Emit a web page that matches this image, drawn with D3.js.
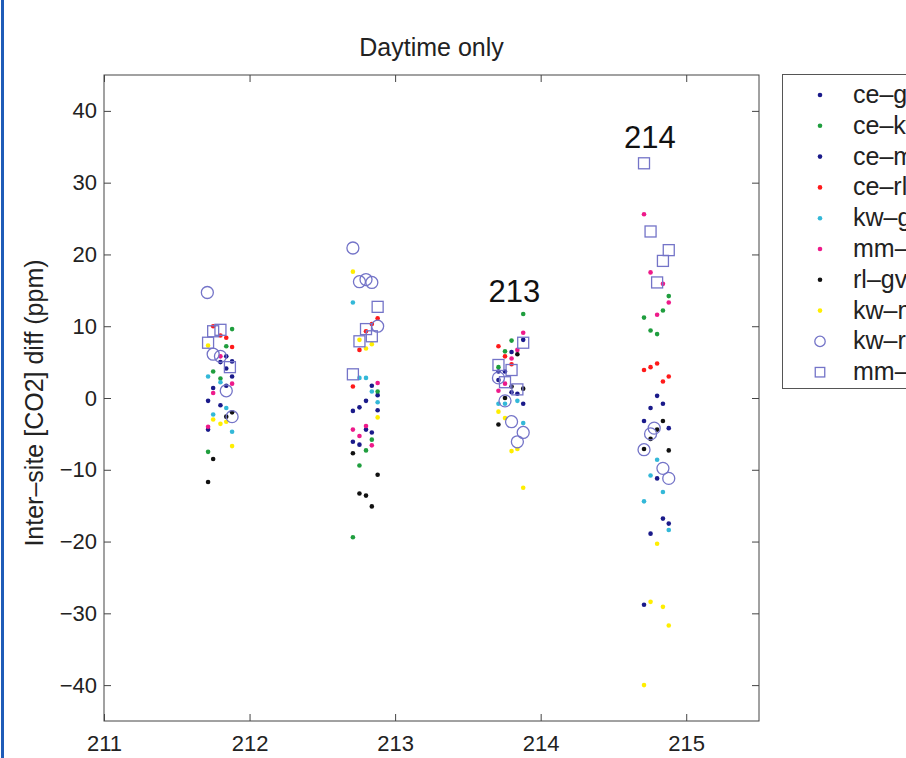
<!DOCTYPE html>
<html><head><meta charset="utf-8">
<script src="https://cdn.jsdelivr.net/npm/d3@7"></script>
<style>
body{margin:0;background:#fff;}
svg{display:block;font-family:"Liberation Sans",Arial,sans-serif;}
</style></head>
<body>
<svg id="chart" width="906" height="758"></svg>
<script>
// ---------- data ----------
const title = "Daytime only";
const yLabel = "Inter–site [CO2] diff (ppm)";
const xTicks = [211, 212, 213, 214, 215];
const yTicks = [-40, -30, -20, -10, 0, 10, 20, 30, 40];
const seriesNames = ["ce–gv","ce–kw","ce–mm","ce–rl","kw–gv","mm–gv","rl–gv","kw–mm","kw–rl","mm–rl"];
const seriesColors = ["#1a1a8a","#1f9e3e","#1a1a8a","#ff1a1a","#33b8d8","#ee1a8a","#111111","#ffee00","#7474c8","#7474c8"];
const seriesShapes = ["dot","dot","dot","dot","dot","dot","dot","dot","circle","square"];

const ceGv = [[211.715,-0.4],[211.75,1.4],[211.80,5.0],[211.84,5.8],[211.88,5.1],
  [212.71,-1.8],[212.755,-1.3],[212.80,-0.4],[212.84,1.7],[212.88,0.4],
  [213.71,2.5],[213.755,3.7],[213.80,6.4],[213.88,8.1],
  [214.71,-3.2],[214.755,-1.4],[214.80,0.3],[214.84,-0.8],[214.88,-4.2]];
const ceKw = [[211.715,-7.5],[211.75,3.7],[211.80,2.7],[211.84,7.2],[211.88,9.6],
  [212.71,-19.4],[212.755,-9.4],[212.80,-7.3],[212.84,-5.8],[212.88,0.9],
  [213.71,4.3],[213.755,6.5],[213.80,8.0],[213.88,11.7],
  [214.71,11.2],[214.755,9.4],[214.80,8.9],[214.84,12.2],[214.88,14.2]];
const ceMm = [[211.715,-4.4],[211.80,-1.0],[211.84,4.1],[211.84,1.7],[211.88,3.0],
  [212.71,-6.1],[212.755,-6.5],[212.80,-4.4],[212.84,-4.8],[212.88,-1.7],
  [213.71,3.7],[213.80,0.8],[213.84,0.6],[213.88,-0.8],
  [214.71,-28.8],[214.755,-18.9],[214.80,-11.2],[214.84,-16.8],[214.88,-17.5]];
const ceRl = [[211.75,10.0],[211.80,8.7],[211.84,8.4],[211.88,7.1],
  [212.71,1.6],[212.755,6.7],[212.80,9.3],[212.84,10.3],[212.88,11.1],
  [213.71,7.2],[213.755,5.8],[213.80,4.7],
  [214.71,3.9],[214.755,4.3],[214.80,4.8],[214.84,2.3],[214.88,3.0]];
const kwGv = [[211.715,3.0],[211.75,-2.3],[211.80,2.2],[211.84,-1.4],[211.88,-4.7],
  [212.71,13.3],[212.755,2.8],[212.80,2.8],[212.84,0.9],[212.88,-0.6],
  [213.71,-0.8],[213.755,-0.8],[213.84,-0.4],[213.88,-3.5],
  [214.71,-14.4],[214.755,-10.8],[214.80,-8.6],[214.84,-13.1],[214.88,-18.4]];
const mmGv = [[211.715,-4.0],[211.75,0.7],[211.80,5.8],[211.88,2.0],
  [212.71,-4.4],[212.755,-5.3],[212.80,-3.9],[212.84,-6.6],[212.88,2.1],
  [213.71,1.0],[213.755,2.0],[213.80,5.5],[213.84,6.7],[213.88,9.1],
  [214.71,25.6],[214.755,17.5],[214.80,11.6],[214.84,15.9],[214.88,13.3]];
const rlGv = [[211.715,-11.7],[211.75,-8.5],[211.84,-2.6],[211.88,-2.0],
  [212.71,-7.7],[212.755,-13.3],[212.80,-13.6],[212.84,-15.1],[212.88,-10.7],
  [213.71,-3.7],[213.755,0.0],[213.80,1.6],[213.84,6.1],[213.88,1.3],
  [214.71,-7.1],[214.755,-5.7],[214.80,-4.4],[214.84,-3.2],[214.88,-7.3]];
const kwMm = [[211.715,7.3],[211.75,-3.0],[211.80,-3.6],[211.84,-3.3],[211.88,-6.7],
  [212.71,17.6],[212.755,8.1],[212.80,6.9],[212.84,7.5],[212.88,-2.7],
  [213.71,-1.9],[213.755,-2.8],[213.80,-7.4],[213.84,-7.1],[213.88,-12.5],
  [214.71,-40.0],[214.755,-28.4],[214.80,-20.3],[214.84,-29.1],[214.88,-31.7]];
const kwRl = [[211.71,14.7],[211.75,6.1],[211.80,5.8],[211.84,1.0],[211.88,-2.6],
  [212.71,20.9],[212.755,16.2],[212.80,16.5],[212.84,16.1],[212.88,10.0],
  [213.71,2.8],[213.755,-0.4],[213.80,-3.3],[213.84,-6.1],[213.88,-4.8],
  [214.71,-7.2],[214.755,-5.0],[214.78,-4.2],[214.84,-9.8],[214.88,-11.2]];
const mmRl = [[211.715,7.7],[211.75,9.3],[211.80,9.5],[211.865,4.3],
  [212.71,3.3],[212.755,7.9],[212.80,9.6],[212.84,8.6],[212.88,12.7],
  [213.71,4.6],[213.755,2.2],[213.80,3.9],[213.84,1.2],[213.88,7.7],
  [214.71,32.7],[214.755,23.2],[214.80,16.1],[214.84,19.1],[214.88,20.6]];
const seriesData = [ceGv, ceKw, ceMm, ceRl, kwGv, mmGv, rlGv, kwMm, kwRl, mmRl];

const annotations = [{text:"213", x:213.82, y:13.4},{text:"214", x:214.75, y:34.8}];

// ---------- layout ----------
const svg = d3.select("#chart");
const L = 104, R = 759, T = 75, B = 721;
const x = d3.scaleLinear().domain([211, 215.5]).range([L, R]);
const y = d3.scaleLinear().domain([-45, 45]).range([B, T]);
const axisColor = "#444";

// left blue edge
svg.append("rect").attr("x",1).attr("y",0).attr("width",3).attr("height",758).attr("fill","#1f5cb8");

// title
svg.append("text").attr("x",(L+R)/2).attr("y",56).attr("text-anchor","middle")
  .attr("font-size",25).attr("fill","#222").text(title);

// y label
svg.append("text").attr("transform",`translate(43,${(T+B)/2+5}) rotate(-90)`)
  .attr("text-anchor","middle").attr("font-size",25).attr("fill","#222").text(yLabel);

// axes (ticks inward)
const tl = 7;
const gx = svg.append("g").attr("transform",`translate(0,${B})`)
  .call(d3.axisBottom(x).tickValues(xTicks).tickSize(-tl).tickPadding(14).tickFormat(d3.format("d")));
const gxt = svg.append("g").attr("transform",`translate(0,${T})`)
  .call(d3.axisTop(x).tickValues(xTicks).tickSize(-tl).tickFormat(""));
const gy = svg.append("g").attr("transform",`translate(${L},0)`)
  .call(d3.axisLeft(y).tickValues(yTicks).tickSize(-tl).tickPadding(7).tickFormat(d => d < 0 ? "−" + Math.abs(d) : d));
const gyr = svg.append("g").attr("transform",`translate(${R},0)`)
  .call(d3.axisRight(y).tickValues(yTicks).tickSize(-tl).tickFormat(""));
[gx,gxt,gy,gyr].forEach(g=>{
  g.select(".domain").remove();
  g.selectAll(".tick line").attr("stroke",axisColor);
  g.selectAll(".tick text").attr("font-size",22).attr("fill","#222").attr("font-family","Liberation Sans, Arial, sans-serif");
});
svg.append("rect").attr("x",L).attr("y",T).attr("width",R-L).attr("height",B-T)
  .attr("fill","none").attr("stroke",axisColor).attr("stroke-width",1);

// marks
const plot = svg.append("g");
function drawMark(g, shape, color, cx, cy, big){
  if (shape === "dot") {
    g.append("circle").attr("cx",cx).attr("cy",cy).attr("r", 2.3).attr("fill",color);
  } else if (shape === "circle") {
    g.append("circle").attr("cx",cx).attr("cy",cy).attr("r", big ? 6 : 5.2)
      .attr("fill","none").attr("stroke",color).attr("stroke-width",1.3);
  } else {
    const s = big ? 11 : 9.5;
    g.append("rect").attr("x",cx-s/2).attr("y",cy-s/2).attr("width",s).attr("height",s)
      .attr("fill","none").attr("stroke",color).attr("stroke-width",1.3);
  }
}
seriesData.forEach((pts, i) => {
  const g = plot.append("g").attr("class","series");
  pts.forEach(p => drawMark(g, seriesShapes[i], seriesColors[i], x(p[0]), y(p[1]), true));
});

// annotations
svg.selectAll("text.ann").data(annotations).enter().append("text").attr("class","ann")
  .attr("x",d=>x(d.x)).attr("y",d=>y(d.y)).attr("text-anchor","middle")
  .attr("font-size",31).attr("fill","#111").text(d=>d.text);

// legend (extends past the right edge, as in the reference)
const lg = svg.append("g");
lg.append("rect").attr("x",782.5).attr("y",74.5).attr("width",200).attr("height",314)
  .attr("fill","#fff").attr("stroke","#555").attr("stroke-width",1);
seriesNames.forEach((name,i)=>{
  const ly = 95 + i*30.8;
  drawMark(lg, seriesShapes[i], seriesColors[i], 820, ly, false);
  lg.append("text").attr("x",853).attr("y",ly+8).attr("font-size",25).attr("fill","#222").text(name);
});
</script>
</body></html>
